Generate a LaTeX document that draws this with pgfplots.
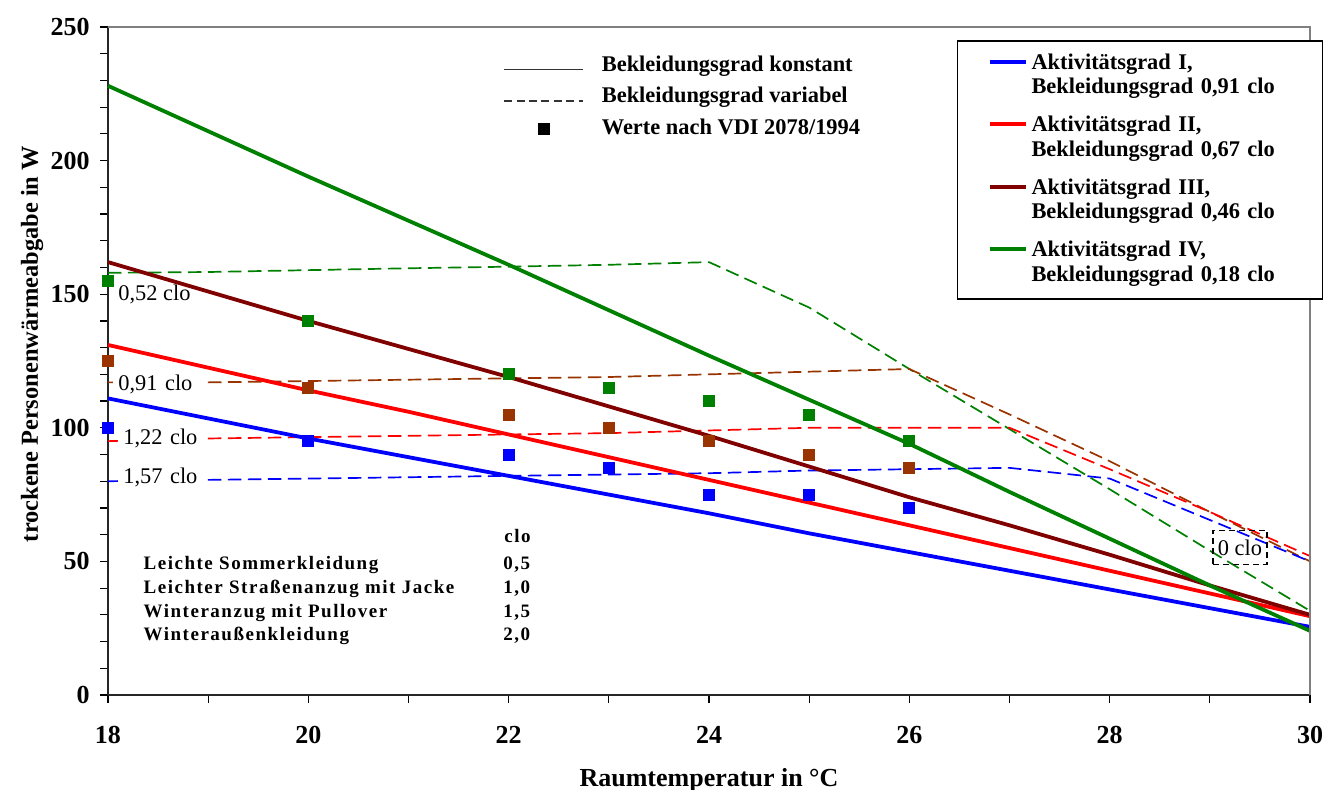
\documentclass[border=0pt]{standalone}
\usepackage{fontspec}
\setmainfont{Liberation Serif}
\usepackage{pgfplots}
\pgfplotsset{compat=1.18}
\definecolor{cBlue}{RGB}{0,0,255}
\definecolor{cRed}{RGB}{255,0,0}
\definecolor{cDark}{RGB}{128,0,0}
\definecolor{cGreen}{RGB}{0,128,0}
\definecolor{cBrown}{RGB}{153,51,0}
\newcommand{\lfont}{\fontsize{11.2}{12.2}\selectfont\bfseries}
\newcommand{\nfont}{\fontsize{11.2}{12.2}\selectfont}
\newcommand{\tfont}{\fontsize{9.5}{10}\selectfont\bfseries\addfontfeature{LetterSpace=8}}
\pgfplotsset{
  solidline/.style={line width=1.9pt},
  dashline/.style={line width=0.85pt, dash pattern=on 6.75pt off 3.25pt},
  vdi/.style={only marks, mark=square*, mark size=2.75pt},
}
\begin{document}
\begin{tikzpicture}
\begin{axis}[
  at={(0pt,0pt)}, anchor=south west,
  scale only axis, width=601pt, height=334pt,
  xmin=18, xmax=30, ymin=0, ymax=250,
  axis lines*=left,
  axis line style={black!85, line width=1pt},
  clip=false,
  tick align=outside,
  major tick length=4pt, minor tick length=4pt,
  tick style={black, line width=0.6pt},
  xtick={18,20,...,30}, minor x tick num=1,
  ytick={0,50,...,250}, minor y tick num=4,
  /pgf/number format/assume math mode=true,
  ticklabel style={font=\fontsize{13}{15}\selectfont\bfseries},
  xticklabel style={anchor=base, yshift=-20.5pt},
  yticklabel style={anchor=east, inner sep=0pt, xshift=-5pt},
  xlabel={Raumtemperatur in °C},
  ylabel={trockene Personenwärmeabgabe in W},
  xlabel style={font=\fontsize{13}{14}\selectfont\bfseries, at={(axis description cs:0.5,0)}, anchor=base, yshift=-45.85pt},
  ylabel style={font=\fontsize{12.2}{14}\selectfont\bfseries, at={(axis description cs:-0.05824,0.5254)}, anchor=base},
  legend style={at={(axis description cs:0.7063,0.9805)}, anchor=north west, draw=black, line width=0.75pt, fill=white,
     inner xsep=0pt, inner ysep=4.5pt, column sep=0pt, row sep=4.8pt, font=\lfont,
     cells={anchor=base west}, nodes={inner xsep=2pt, inner ysep=2pt, text depth={}, text height={}, text width=143.5pt, align=left}},
  legend image code/.code={\path (0pt,0pt); \draw[#1] (15pt,3.8pt) -- (33pt,3.8pt);},
]
% dashed: clothing variable
\addplot[cGreen, dashline, forget plot] coordinates {(18,158)(19,158.3)(20,159)(21,159.7)(22,160.3)(23,161)(24,162)(25,145)(26,122)(27,99.5)(28,77)(29,54)(30,31.5)};
\addplot[cBrown, dashline, forget plot] coordinates {(18,117)(19,117)(20,117.5)(21,118)(22,118.5)(23,119)(24,120)(25,121)(26,122)(27,105)(28,87.5)(29,68.5)(30,50)};
\addplot[cRed, dashline, forget plot] coordinates {(18,95)(19,96)(20,96.5)(21,97)(22,97.5)(23,98)(24,99)(25,100)(26,100)(27,100)(28,84.5)(29,68.5)(30,52)};
\addplot[cBlue, dashline, forget plot] coordinates {(18,80)(19,80.5)(20,81)(21,81.5)(22,82)(23,82.5)(24,83)(25,84)(26,84.5)(27,85)(28,81)(29,65.5)(30,50)};
% solid: clothing constant
\addplot[cBlue, solidline] coordinates {(18,111)(19,103.5)(20,96)(21,89)(22,82)(23,75)(24,68)(25,60.5)(26,53.5)(27,46.5)(28,39.5)(29,32.5)(30,25.5)};
\addlegendentry{Aktivitätsgrad I,\\Bekleidungsgrad 0,91 clo}
\addplot[cRed, solidline] coordinates {(18,131)(19,122.5)(20,114)(21,106)(22,97.5)(23,89)(24,80.5)(25,72)(26,63.5)(27,55)(28,46.5)(29,38)(30,29.5)};
\addlegendentry{Aktivitätsgrad II,\\Bekleidungsgrad 0,67 clo}
\addplot[cDark, solidline] coordinates {(18,162)(19,151)(20,140)(21,129.5)(22,119)(23,108)(24,97)(25,85.5)(26,74)(27,63.5)(28,52.5)(29,41)(30,30)};
\addlegendentry{Aktivitätsgrad III,\\Bekleidungsgrad 0,46 clo}
\addplot[cGreen, solidline] coordinates {(18,228)(19,211)(20,194)(21,177.5)(22,161)(23,144)(24,127)(25,110.5)(26,94)(27,76)(28,58.5)(29,41)(30,24)};
\addlegendentry{Aktivitätsgrad IV,\\Bekleidungsgrad 0,18 clo}
% VDI values
\addplot[vdi, color=cBlue, forget plot] coordinates {(18,100)(20,95)(22,90)(23,85)(24,75)(25,75)(26,70)};
\addplot[vdi, color=cBrown, forget plot] coordinates {(18,125)(20,115)(22,105)(23,100)(24,95)(25,90)(26,85)};
\addplot[vdi, color=cGreen, forget plot] coordinates {(18,155)(20,140)(22,120)(23,115)(24,110)(25,105)(26,95)};
% grey frame top/right
\draw[gray, line width=0.75pt] (rel axis cs:0,1) -- (rel axis cs:1,1) -- (rel axis cs:1,0);
% clo labels
\node[anchor=base west, inner sep=0pt, font=\nfont] at (axis cs:18.1,147.6) {0,52 clo};
\node[anchor=base west, fill=white, inner xsep=2.5pt, inner ysep=1.5pt, text width=41pt, align=left, font=\nfont] at (axis cs:18.05,114.1) {0,91 clo};
\node[anchor=base west, fill=white, inner xsep=2.5pt, inner ysep=1.5pt, text width=38.5pt, align=left, font=\nfont] at (axis cs:18.1,93.6) {1,22 clo};
\node[anchor=base west, fill=white, inner xsep=2.5pt, inner ysep=1.5pt, text width=38.5pt, align=left, font=\nfont] at (axis cs:18.1,79.3) {1,57 clo};
\node[draw=black, line width=0.9pt, dash pattern=on 3pt off 2pt, minimum width=27pt, minimum height=17pt, inner sep=0pt, font=\nfont] at (axis cs:29.3,55.2) {0 clo};
% clothing table
\node[anchor=base west, inner sep=0pt, font=\tfont] at (axis cs:21.953,57.0) {clo};
\node[anchor=base west, inner sep=0pt, font=\tfont] at (axis cs:18.352,46.8) {Leichte Sommerkleidung};
\node[anchor=base west, inner sep=0pt, font=\tfont] at (axis cs:21.943,46.8) {0,5};
\node[anchor=base west, inner sep=0pt, font=\tfont] at (axis cs:18.352,38.1) {Leichter Straßenanzug mit Jacke};
\node[anchor=base west, inner sep=0pt, font=\tfont] at (axis cs:21.943,38.1) {1,0};
\node[anchor=base west, inner sep=0pt, font=\tfont] at (axis cs:18.352,29.1) {Winteranzug mit Pullover};
\node[anchor=base west, inner sep=0pt, font=\tfont] at (axis cs:21.943,29.1) {1,5};
\node[anchor=base west, inner sep=0pt, font=\tfont] at (axis cs:18.352,20.3) {Winteraußenkleidung};
\node[anchor=base west, inner sep=0pt, font=\tfont] at (axis cs:21.943,20.3) {2,0};
\end{axis}
\begin{axis}[
  at={(0pt,0pt)}, anchor=south west,
  scale only axis, width=601pt, height=334pt,
  hide axis, xmin=0, xmax=1, ymin=0, ymax=1,
  legend style={at={(axis description cs:0.3286,0.9599)}, anchor=north west, draw=none, fill=none, inner sep=0pt,
     column sep=9pt, row sep=3.4pt, font=\lfont, cells={anchor=base west}, nodes={inner xsep=0pt, inner ysep=1pt, text depth={}}},
  legend image code/.code={\path (0pt,0pt) (39.5pt,0pt); \draw[#1] (0pt,1pt) -- (39.5pt,1pt);},
]
\addlegendimage{black!80, line width=0.75pt}
\addlegendentry{Bekleidungsgrad konstant}
\addlegendimage{black!80, line width=0.75pt, dash pattern=on 4pt off 2.2pt}
\addlegendentry{Bekleidungsgrad variabel}
\addlegendimage{legend image code/.code={\path (0pt,0pt) (39.5pt,0pt); \fill[black] (17.25pt,0pt) rectangle (22.75pt,5.5pt);}}
\addlegendentry{Werte nach VDI 2078/1994}
\end{axis}
\pgfresetboundingbox
\path[use as bounding box] (-54pt,-47.5pt) rectangle (607.5pt,347.5pt);
\end{tikzpicture}
\end{document}
